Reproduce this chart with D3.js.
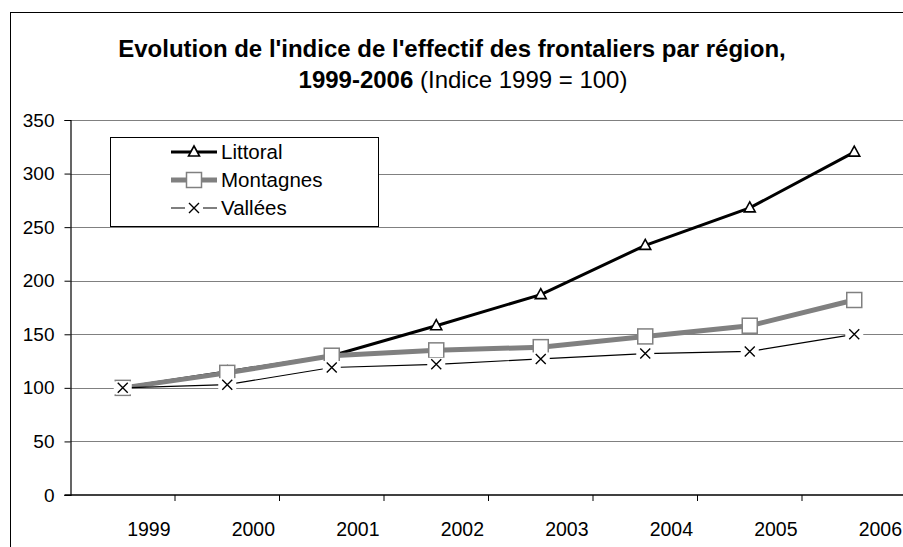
<!DOCTYPE html>
<html>
<head>
<meta charset="utf-8">
<script src="https://cdn.jsdelivr.net/npm/d3@7"></script>
<style>
body { margin: 0; background: #fff; }
svg { display: block; font-family: "Liberation Sans", Arial, sans-serif; }
</style>
</head>
<body>
<div id="chart"></div>
<script>
//Width and height
var w = 903;
var h = 547;

// data
var years = ["1999", "2000", "2001", "2002", "2003", "2004", "2005", "2006"];
var littoral = [100, 115, 130, 158, 187, 233, 268, 320];
var montagnes = [100, 114, 130, 135, 138, 148, 158, 182];
var vallees = [100, 103, 119, 122, 127, 132, 134, 150];
var yTicks = [0, 50, 100, 150, 200, 250, 300, 350];
var seriesNames = ["Littoral", "Montagnes", "Vallées"];

var margin = {left: 70.5, top: 120, bottom: 52};
var plotW = 8 * 104.5;

var svg = d3.select("#chart")
    .append("svg")
    .attr("width", w)
    .attr("height", h);

//outer frame
svg.append("rect")
    .attr("x", 10.5).attr("y", 12.5)
    .attr("width", 1000).attr("height", 600)
    .attr("fill", "none")
    .attr("stroke", "#000")
    .attr("stroke-width", 1);

//title
var title = svg.append("text")
    .attr("text-anchor", "middle")
    .attr("font-size", 24);
title.append("tspan")
    .attr("x", 452).attr("y", 57)
    .attr("font-weight", "bold")
    .text("Evolution de l'indice de l'effectif des frontaliers par région,");
var t2 = title.append("tspan").attr("x", 463).attr("y", 88);
t2.append("tspan").attr("font-weight", "bold").text("1999-2006");
t2.append("tspan").text(" (Indice 1999 = 100)");

var x = d3.scaleBand()
    .domain(years)
    .range([margin.left, margin.left + plotW]);

var y = d3.scaleLinear()
    .domain([0, 350])
    .range([h - margin.bottom, margin.top]);

//gridlines
svg.append("g")
    .selectAll("line")
    .data(yTicks.filter(function(d) { return d > 0; }))
    .enter()
    .append("line")
    .attr("x1", margin.left)
    .attr("x2", margin.left + plotW)
    .attr("y1", function(d) { return Math.round(y(d)) + 0.5; })
    .attr("y2", function(d) { return Math.round(y(d)) + 0.5; })
    .attr("stroke", "#808080")
    .attr("stroke-width", 1);

//y axis
var yAxis = d3.axisLeft(y)
    .tickValues(yTicks)
    .tickSize(6)
    .tickPadding(10);
var gy = svg.append("g")
    .attr("transform", "translate(" + margin.left + ",0)")
    .call(yAxis);
gy.selectAll("text").attr("font-size", 19).attr("fill", "#000").attr("font-family", "Liberation Sans, Arial");
gy.selectAll("line").attr("stroke", "#000");
gy.select(".domain").attr("stroke", "#000").attr("stroke-width", 1.2);

//x axis: ticks on category boundaries, labels shifted right
var gx = svg.append("g")
    .attr("transform", "translate(0," + (h - margin.bottom) + ")");
gx.append("line")
    .attr("x1", margin.left - 6).attr("x2", margin.left + plotW)
    .attr("y1", 0).attr("y2", 0)
    .attr("stroke", "#000").attr("stroke-width", 1.4);
gx.selectAll(".tk")
    .data(years)
    .enter()
    .append("line")
    .attr("class", "tk")
    .attr("x1", function(d) { return x(d) + x.bandwidth(); })
    .attr("x2", function(d) { return x(d) + x.bandwidth(); })
    .attr("y1", 0).attr("y2", 6)
    .attr("stroke", "#000");
gx.selectAll("text")
    .data(years)
    .enter()
    .append("text")
    .attr("x", function(d) { return x(d) + x.bandwidth() * 0.75; })
    .attr("y", 41)
    .attr("text-anchor", "middle")
    .attr("font-size", 19.5)
    .text(function(d) { return d; });

function cx(i) { return x(years[i]) + x.bandwidth() / 2; }

var line = d3.line()
    .x(function(d, i) { return cx(i); })
    .y(function(d) { return y(d); });

//marker helpers
function triangle(g, px, py) {
    g.append("path")
        .attr("d", "M" + px + "," + (py - 6) + "L" + (px + 5.5) + "," + (py + 4) + "L" + (px - 5.5) + "," + (py + 4) + "Z")
        .attr("fill", "#fff").attr("stroke", "#000").attr("stroke-width", 1.6);
}
function square(g, px, py) {
    g.append("rect")
        .attr("x", px - 7.5).attr("y", py - 7.5)
        .attr("width", 15).attr("height", 15)
        .attr("fill", "#fff").attr("stroke", "#808080").attr("stroke-width", 1.5);
}
function crossBack(g, px, py) {
    g.append("rect")
        .attr("x", px - 9).attr("y", py - 6.5)
        .attr("width", 18).attr("height", 13)
        .attr("fill", "#fff");
}
function cross(g, px, py) {
    g.append("path")
        .attr("d", "M" + (px - 5) + "," + (py - 5) + "L" + (px + 5) + "," + (py + 5) + "M" + (px + 5) + "," + (py - 5) + "L" + (px - 5) + "," + (py + 5))
        .attr("stroke", "#000").attr("stroke-width", 1.4);
}

//Littoral
var gL = svg.append("g");
gL.append("path").datum(littoral).attr("d", line)
    .attr("fill", "none").attr("stroke", "#000").attr("stroke-width", 3);
littoral.forEach(function(d, i) { triangle(gL, cx(i), y(d)); });

//Montagnes
var gM = svg.append("g");
gM.append("path").datum(montagnes).attr("d", line)
    .attr("fill", "none").attr("stroke", "#808080").attr("stroke-width", 5);
montagnes.forEach(function(d, i) { square(gM, cx(i), y(d)); });

//Vallées: line, white backs, then crosses
var gV = svg.append("g");
gV.append("path").datum(vallees).attr("d", line)
    .attr("fill", "none").attr("stroke", "#000").attr("stroke-width", 1.2);
vallees.forEach(function(d, i) { crossBack(gV, cx(i), y(d)); });
vallees.forEach(function(d, i) { cross(gV, cx(i), y(d)); });

//legend
var lg = svg.append("g");
lg.append("rect")
    .attr("x", 110.5).attr("y", 137.5)
    .attr("width", 268).attr("height", 89)
    .attr("fill", "#fff").attr("stroke", "#000").attr("stroke-width", 1);
var rowsY = [152, 180, 208];
var lx1 = 171, lx2 = 217, lmid = 194;
lg.append("line").attr("x1", lx1).attr("x2", lx2).attr("y1", rowsY[0]).attr("y2", rowsY[0])
    .attr("stroke", "#000").attr("stroke-width", 3);
triangle(lg, lmid, rowsY[0]);
lg.append("line").attr("x1", lx1).attr("x2", lx2).attr("y1", rowsY[1]).attr("y2", rowsY[1])
    .attr("stroke", "#808080").attr("stroke-width", 5);
square(lg, lmid, rowsY[1]);
lg.append("line").attr("x1", lx1).attr("x2", lx2).attr("y1", rowsY[2]).attr("y2", rowsY[2])
    .attr("stroke", "#000").attr("stroke-width", 1.2);
crossBack(lg, lmid, rowsY[2]);
cross(lg, lmid, rowsY[2]);
lg.selectAll(".lbl")
    .data(seriesNames)
    .enter()
    .append("text")
    .attr("class", "lbl")
    .attr("x", 221)
    .attr("y", function(d, i) { return rowsY[i] + 7; })
    .attr("font-size", 20.5)
    .text(function(d) { return d; });
</script>
</body>
</html>
